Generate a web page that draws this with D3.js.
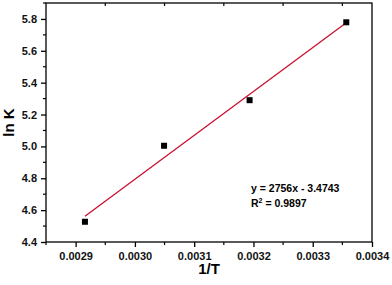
<!DOCTYPE html>
<html>
<head>
<meta charset="utf-8">
<script src="https://cdn.jsdelivr.net/npm/d3@7"></script>
<style>
  body { margin: 0; background: #fff; }
  text { font-family: "Liberation Sans", Arial, sans-serif; font-weight: bold; }
</style>
</head>
<body>
<script>
// data
var invT = [0.0029157, 0.0030492, 0.0031935, 0.0033566];
var lnK = [4.527, 5.004, 5.290, 5.779];
var xTicks = [0.0029, 0.0030, 0.0031, 0.0032, 0.0033, 0.0034];
var yTicks = [4.4, 4.6, 4.8, 5.0, 5.2, 5.4, 5.6, 5.8];
var slope = 2756, intercept = -3.4743;

var W = 392, H = 285;
var margin = {left: 46, right: 20, top: 3, bottom: 43};

var svg = d3.select("body").append("svg")
    .attr("width", W).attr("height", H);

var x = d3.scaleLinear().domain([0.00285, 0.0034]).range([margin.left, W - margin.right]);
var y = d3.scaleLinear().domain([4.4, 5.9]).range([H - margin.bottom, margin.top]);

var x0 = x.range()[0], x1 = x.range()[1], y0 = y.range()[0], y1 = y.range()[1];

// frame
svg.append("rect")
    .attr("x", x0).attr("y", y1)
    .attr("width", x1 - x0).attr("height", y0 - y1)
    .attr("fill", "none").attr("stroke", "#000").attr("stroke-width", 1.3);

// bottom axis
var xMinor = d3.range(0.00285, 0.003401, 0.0001).map(function(d) { return +d.toFixed(5); });
var gx = svg.append("g").attr("transform", "translate(0," + y0 + ")");
gx.selectAll(".minor").data(xMinor).enter().append("line")
    .attr("x1", function(d) { return x(d); }).attr("x2", function(d) { return x(d); })
    .attr("y1", 0).attr("y2", 3).attr("stroke", "#000").attr("stroke-width", 1.2);
gx.call(d3.axisBottom(x).tickValues(xTicks).tickSize(5).tickPadding(5).tickFormat(d3.format(".4f")))
    .call(function(g) { g.select(".domain").remove(); });
gx.selectAll(".tick line").attr("stroke-width", 1.3);
gx.selectAll(".tick text").attr("font-size", 11).attr("font-family", null).attr("fill", "#111");

// top minor ticks (inward)
svg.append("g").selectAll("line").data(xMinor.slice(1)).enter().append("line")
    .attr("x1", function(d) { return x(d); }).attr("x2", function(d) { return x(d); })
    .attr("y1", y1).attr("y2", y1 + 3).attr("stroke", "#000").attr("stroke-width", 1.2);

// left axis
var yMinor = d3.range(4.5, 5.9, 0.2).map(function(d) { return +d.toFixed(1); });
var gy = svg.append("g").attr("transform", "translate(" + x0 + ",0)");
gy.selectAll(".minor").data(yMinor).enter().append("line")
    .attr("y1", function(d) { return y(d); }).attr("y2", function(d) { return y(d); })
    .attr("x1", 0).attr("x2", -3).attr("stroke", "#000").attr("stroke-width", 1.2);
gy.call(d3.axisLeft(y).tickValues(yTicks).tickSize(5).tickPadding(4).tickFormat(d3.format(".1f")))
    .call(function(g) { g.select(".domain").remove(); });
gy.selectAll(".tick line").attr("stroke-width", 1.3);
gy.selectAll(".tick text").attr("font-size", 11).attr("font-family", null).attr("fill", "#111");

// fit line
svg.append("line")
    .attr("x1", x(invT[0])).attr("y1", y(slope * invT[0] + intercept))
    .attr("x2", x(invT[3])).attr("y2", y(slope * invT[3] + intercept))
    .attr("stroke", "#c8102e").attr("stroke-width", 1.3);

// points
svg.selectAll(".pt").data(invT).enter().append("rect")
    .attr("x", function(d) { return x(d) - 3; })
    .attr("y", function(d, i) { return y(lnK[i]) - 3; })
    .attr("width", 6).attr("height", 6).attr("fill", "#000");

// axis titles
svg.append("text").attr("x", (x0 + x1) / 2).attr("y", 274)
    .attr("text-anchor", "middle").attr("font-size", 15).text("1/T");
svg.append("text").attr("transform", "translate(14," + ((y0 + y1) / 2) + ") rotate(-90)")
    .attr("text-anchor", "middle").attr("font-size", 15).text("ln K");

// equation
svg.append("text").attr("x", 251).attr("y", 191.5).attr("font-size", 10.5)
    .text("y = " + slope + "x - " + Math.abs(intercept));
var r2 = svg.append("text").attr("x", 251).attr("y", 207).attr("font-size", 10.5);
r2.append("tspan").text("R");
r2.append("tspan").attr("font-size", 7).attr("dy", -4).text("2");
r2.append("tspan").attr("dy", 4).text(" = 0.9897");
</script>
</body>
</html>
